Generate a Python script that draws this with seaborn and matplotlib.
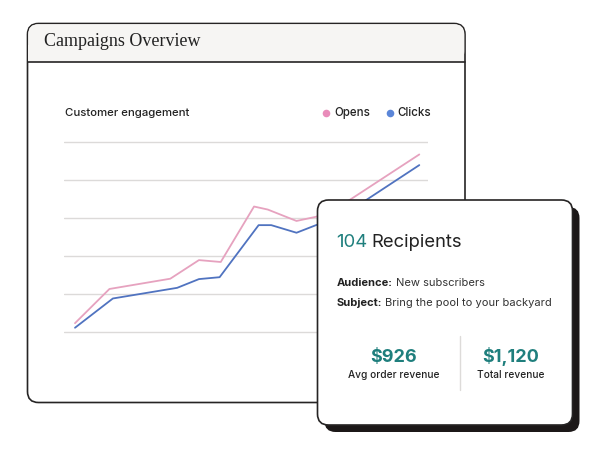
import pandas as pd
import matplotlib.pyplot as plt
import seaborn as sns
from matplotlib.patches import FancyBboxPatch

# engagement data (x = day of campaign)
opens_day = [0, 3.0, 8.3, 10.8, 12.7, 15.6, 16.8, 19.3, 21.0, 22.6, 30]
opens_val = [2.4, 11.4, 14.1, 19.0, 18.5, 33.1, 32.3, 29.3, 30.4, 32.2, 46.8]
clicks_day = [0, 3.3, 8.9, 10.8, 12.6, 16.0, 17.1, 19.3, 21.0, 23.1, 30]
clicks_val = [1.2, 8.9, 11.7, 14.0, 14.5, 28.2, 28.2, 26.2, 28.2, 30.3, 44.0]
series_names = ['Opens', 'Clicks']
colors = {'Opens': '#e6a2bf', 'Clicks': '#5073c0'}
dot_colors = {'Opens': '#e98cba', 'Clicks': '#5b86d8'}

recipients = 104
audience = 'New subscribers'
subject = 'Bring the pool to your backyard'
avg_order = '$926'
total_rev = '$1,120'

df = pd.concat([
    pd.DataFrame({'day': opens_day, 'value': opens_val, 'metric': 'Opens'}),
    pd.DataFrame({'day': clicks_day, 'value': clicks_val, 'metric': 'Clicks'}),
])

sns.set_style('white')
plt.rcParams['font.family'] = ['Inter', 'DejaVu Sans']

W, H = 608, 455
fig = plt.figure(figsize=(W / 100, H / 100), dpi=100)
fig.patch.set_facecolor('white')


def px_axes(x0, y0, x1, y1, z):
    # pixel box (top-left origin) -> figure axes
    return fig.add_axes([x0 / W, 1 - y1 / H, (x1 - x0) / W, (y1 - y0) / H], zorder=z)


# background panel
bg = px_axes(0, 0, W, H, 0)
bg.set_xlim(0, W)
bg.set_ylim(H, 0)
bg.axis('off')
dark = '#262424'
bg.add_patch(FancyBboxPatch((27.5, 23.5), 437.5, 379, boxstyle='round,pad=0,rounding_size=11',
                            facecolor='white', edgecolor=dark, lw=1.2))
bg.add_patch(FancyBboxPatch((28.2, 24.2), 436.1, 37, boxstyle='round,pad=0,rounding_size=10',
                            facecolor='#f6f5f3', edgecolor='none'))
bg.fill_between([28.2, 464.3], 45, 61.5, color='#f6f5f3', lw=0)
bg.plot([27.5, 465], [61.7, 61.7], color=dark, lw=1.2)
bg.text(44, 46.5, 'Campaigns Overview', fontsize=13, family='Liberation Serif',
        color='#222', va='baseline', ha='left')
bg.text(65, 113, 'Customer engagement', fontsize=8.2, color='#222', va='center',
        ha='left', fontweight='medium')

# line chart: gridlines 0..50 span pixel rows 332.3..142.3
ax = px_axes(64, 130, 428, 345, 1)
ax.patch.set_alpha(0)
px_per_unit = 3.8
ax.set_ylim((332.3 - 345) / px_per_unit, (332.3 - 130) / px_per_unit)
x_per_px = 30 / (419.3 - 75)
ax.set_xlim(-(75 - 64) * x_per_px, (428 - 75) * x_per_px)
ax.set_yticks([0, 10, 20, 30, 40, 50])
ax.yaxis.grid(True, color='#dcdad9', lw=1)
ax.xaxis.grid(False)
sns.lineplot(data=df, x='day', y='value', hue='metric', hue_order=series_names,
             palette=colors, lw=1.3, legend=False, ax=ax, estimator=None, sort=False)
ax.set_xlabel('')
ax.set_ylabel('')
ax.tick_params(left=False, bottom=False, labelleft=False, labelbottom=False)
sns.despine(ax=ax, left=True, bottom=True)

# overlay: legend + summary card
ov = px_axes(0, 0, W, H, 3)
ov.set_xlim(0, W)
ov.set_ylim(H, 0)
ov.axis('off')
ov.patch.set_alpha(0)
ov.scatter([326], [113], s=30, color=dot_colors['Opens'], lw=0)
ov.text(334, 113, 'Opens', fontsize=8.3, color='#222', va='center', fontweight='medium')
ov.scatter([390], [113], s=30, color=dot_colors['Clicks'], lw=0)
ov.text(397.5, 113, 'Clicks', fontsize=8.3, color='#222', va='center', fontweight='medium')

ov.add_patch(FancyBboxPatch((324.5, 207), 255, 225, boxstyle='round,pad=0,rounding_size=11',
                            facecolor='#1c1818', edgecolor='none'))
ov.add_patch(FancyBboxPatch((317.5, 200), 255, 225, boxstyle='round,pad=0,rounding_size=11',
                            facecolor='white', edgecolor=dark, lw=1.2))

teal = '#1f7f7d'
t1 = ov.text(336, 247, str(recipients), fontsize=13.3, color=teal, va='baseline', ha='left')
fig.canvas.draw()
r = fig.canvas.get_renderer()
inv = ov.transData.inverted()


def right_px(t):
    bb = t.get_window_extent(r)
    return inv.transform((bb.x1, bb.y0))[0]


ov.text(right_px(t1) + 4, 247, 'Recipients', fontsize=13.3, color='#222', va='baseline', ha='left')
b1 = ov.text(337, 286.5, 'Audience:', fontsize=8, color='#222', va='baseline', fontweight='bold')
b2 = ov.text(337, 305.5, 'Subject:', fontsize=8, color='#222', va='baseline', fontweight='bold')
fig.canvas.draw()
ov.text(right_px(b1) + 3, 286.5, audience, fontsize=8, color='#333', va='baseline')
ov.text(right_px(b2) + 3, 305.5, subject, fontsize=8, color='#333', va='baseline')

ov.text(394, 362.5, avg_order, fontsize=13, color=teal, va='baseline', ha='center', fontweight='bold')
ov.text(394, 378.5, 'Avg order revenue', fontsize=7.3, color='#222', va='baseline', ha='center',
        fontweight='medium')
ov.plot([460, 460], [336, 390], color='#dddbd9', lw=1)
ov.text(511, 362.5, total_rev, fontsize=13, color=teal, va='baseline', ha='center', fontweight='bold')
ov.text(511, 378.5, 'Total revenue', fontsize=7.3, color='#222', va='baseline', ha='center',
        fontweight='medium')

plt.savefig('out.png', dpi=100)
